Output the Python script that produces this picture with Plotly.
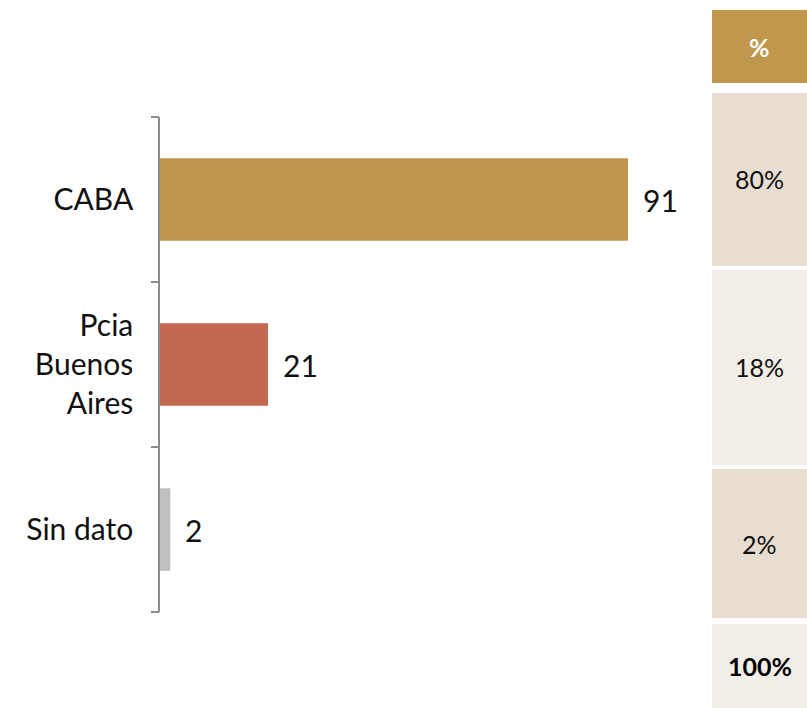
import plotly.graph_objects as go

# chart data
categories = ["CABA", "Pcia<br>Buenos<br>Aires", "Sin dato"]
counts = [91, 21, 2]
bar_colors = ["#BE964D", "#C4694F", "#BFBFBF"]

# side table
pct_header = "%"
pct_labels = ["80%", "18%", "2%"]
pct_total = "100%"

W, H = 807, 708
FONT = "Lato"
AXIS_GREY = "#8C8C8C"


def py(p):
    # pixel row -> paper y
    return 1 - p / H


def px_(p):
    return p / W


fig = go.Figure()

fig.add_trace(go.Bar(
    x=counts,
    y=categories,
    orientation="h",
    width=0.5,
    marker=dict(color=bar_colors, line=dict(width=0)),
    hoverinfo="skip"))

n = len(categories)

# invisible helper trace so the numeric tick axis (y2) gets drawn
fig.add_trace(go.Scatter(
    x=counts, y=list(range(n)), yaxis="y2",
    mode="markers", marker=dict(opacity=0),
    hoverinfo="skip", showlegend=False))

for cat, val in zip(categories, counts):
    fig.add_annotation(
        x=val, y=cat, xref="x", yref="y",
        text=str(val), showarrow=False,
        xanchor="left", xshift=13,
        font=dict(family=FONT, size=30, color="#111111"))

# table cells: (top, bottom, fill, text, bold, text color)
cells = [
    (10, 83, "#BF974D", pct_header, True, "#FFFFFF"),
    (93, 266, "#E8DDD1", pct_labels[0], False, "#111111"),
    (270, 465, "#F2EDE6", pct_labels[1], False, "#111111"),
    (469, 618, "#E8DDD1", pct_labels[2], False, "#111111"),
    (624, 708, "#F2EDE6", pct_total, True, "#000000"),
]
x0, x1 = 712, 807
for top, bot, fill, txt, bold, tcol in cells:
    fig.add_shape(
        type="rect", xref="paper", yref="paper",
        x0=px_(x0), x1=px_(x1), y0=py(bot), y1=py(top),
        fillcolor=fill, line=dict(width=0), layer="below")
    fig.add_annotation(
        x=px_((x0 + x1) / 2), y=py((top + bot) / 2),
        xref="paper", yref="paper", showarrow=False,
        xanchor="center", yanchor="middle",
        text=f"<b>{txt}</b>" if bold else txt,
        font=dict(family=FONT, size=25, color=tcol))

y_range = [n - 0.5, -0.5]

fig.update_xaxes(
    range=[0, 105],
    domain=[px_(160), px_(700)],
    visible=False)

fig.update_yaxes(
    type="category",
    categoryorder="array",
    categoryarray=categories,
    range=y_range,
    domain=[py(612), py(117)],
    showline=True, linecolor=AXIS_GREY, linewidth=1.5,
    ticks="", ticklabelstandoff=19,
    showgrid=False, zeroline=False,
    tickfont=dict(family=FONT, size=30, color="#111111"))

# boundary ticks between categories, including both ends
fig.update_layout(yaxis2=dict(
    overlaying="y", anchor="x", side="left",
    range=y_range,
    tickvals=[i - 0.5 for i in range(n + 1)],
    ticks="outside", ticklen=8, tickcolor=AXIS_GREY, tickwidth=1.5,
    showticklabels=False, showgrid=False, zeroline=False,
    showline=False))

fig.update_layout(
    width=W, height=H,
    margin=dict(l=0, r=0, t=0, b=0),
    plot_bgcolor="white", paper_bgcolor="white",
    showlegend=False,
    font=dict(family=FONT))

fig.write_html(
    "out.html",
    config={"displayModeBar": False},
    post_script="document.body.style.margin='0';"
                "document.body.style.overflow='hidden';")
